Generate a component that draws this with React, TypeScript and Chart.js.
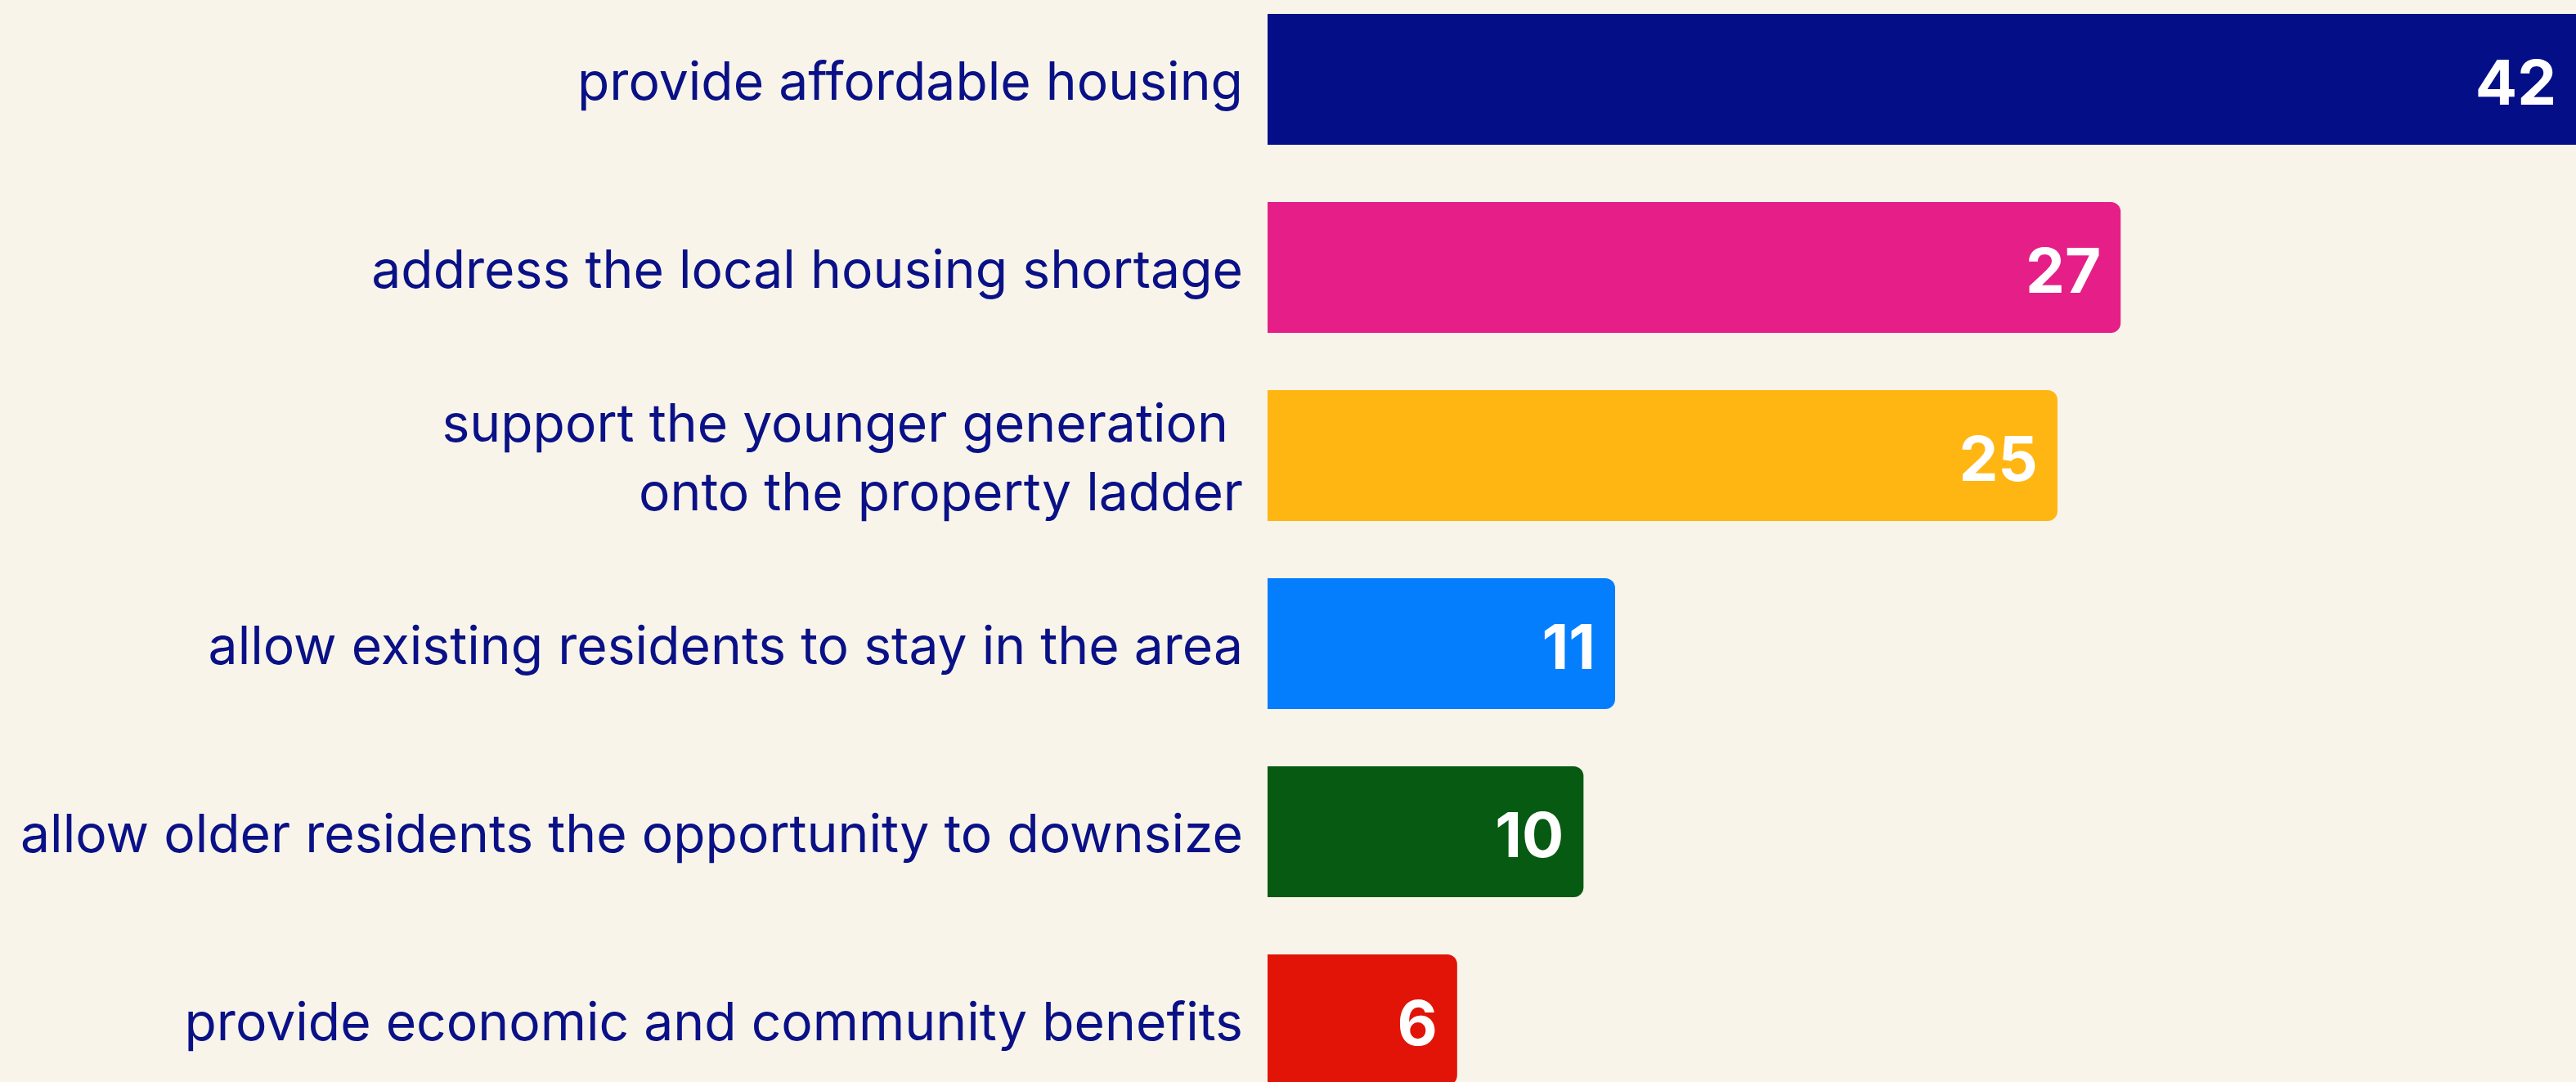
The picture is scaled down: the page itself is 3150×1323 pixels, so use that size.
import React, { useEffect, useRef } from "react";
import { Chart, registerables } from "chart.js";

Chart.register(...registerables);

// ---- data ----
const categories: (string | string[])[] = [
  "provide affordable housing",
  "address the local housing shortage",
  ["support the younger generation ", "onto the property ladder"],
  "allow existing residents to stay in the area",
  "allow older residents the opportunity to downsize",
  "provide economic and community benefits",
];
const values: number[] = [42, 27, 25, 11, 10, 6];
const barColors: string[] = ["#040F87", "#E51F87", "#FFB612", "#057EFE", "#065A12", "#E11407"];
const xMax = 44;

// ---- style ----
const FONT = "Inter, 'Noto Sans', sans-serif";
const BG = "#F8F4E9";
const TEXT = "#0A1187";
const VIEW_W = 3150;
const VIEW_H = 1323;
const CANVAS_W = 3250;
const CANVAS_H = 1380;
const CANVAS_TOP = -18;
const AXIS_W = 1550;
const LONGEST_LABEL_W = 1495;

export default function App() {
  const ref = useRef<HTMLCanvasElement | null>(null);

  useEffect(() => {
    const canvas = ref.current;
    if (!canvas) return;

    const m = document.createElement("canvas").getContext("2d")!;
    m.font = `400 100px ${FONT}`;
    let maxW = 0;
    categories.forEach((c) => {
      (Array.isArray(c) ? c : [c]).forEach((s) => {
        maxW = Math.max(maxW, m.measureText(s.trim()).width);
      });
    });
    const labelSize = (100 * LONGEST_LABEL_W) / maxW;

    const valueLabels = {
      id: "valueLabels",
      afterDatasetsDraw(chart: any) {
        const ctx = chart.ctx;
        const meta = chart.getDatasetMeta(0);
        ctx.save();
        ctx.fillStyle = "#FFFFFF";
        ctx.font = `700 76px ${FONT}`;
        ctx.textAlign = "right";
        ctx.textBaseline = "alphabetic";
        meta.data.forEach((bar: any, i: number) => {
          const end = Math.min(bar.x, VIEW_W);
          ctx.fillText(String(values[i]), end - 24, bar.y + 31);
        });
        ctx.restore();
      },
    };

    const chart = new Chart(canvas, {
      type: "bar",
      data: {
        labels: categories,
        datasets: [
          {
            data: values,
            backgroundColor: barColors,
            borderWidth: 0,
            borderRadius: { topLeft: 0, bottomLeft: 0, topRight: 12, bottomRight: 12 },
            borderSkipped: false,
            categoryPercentage: 1,
            barPercentage: 0.696,
          },
        ],
      },
      options: {
        indexAxis: "y",
        animation: false,
        responsive: false,
        devicePixelRatio: 1,
        layout: { padding: 0 },
        plugins: {
          legend: { display: false },
          tooltip: { enabled: false },
        },
        scales: {
          x: {
            display: false,
            min: 0,
            max: xMax,
          },
          y: {
            afterFit(scale: any) {
              scale.width = AXIS_W;
              scale.paddingTop = 0;
              scale.paddingBottom = 0;
            },
            grid: { display: false, drawTicks: false },
            border: { display: false },
            ticks: {
              padding: 30,
              labelOffset: 6,
              color: TEXT,
              font: { family: FONT, size: labelSize, weight: "400", lineHeight: "84px" },
            },
          },
        },
      },
      plugins: [valueLabels],
    } as any);

    return () => chart.destroy();
  }, []);

  return (
    <div
      style={{
        position: "fixed",
        left: 0,
        top: 0,
        width: VIEW_W,
        height: VIEW_H,
        overflow: "hidden",
        background: BG,
      }}
    >
      <canvas
        ref={ref}
        width={CANVAS_W}
        height={CANVAS_H}
        style={{ position: "absolute", left: 0, top: CANVAS_TOP, width: CANVAS_W, height: CANVAS_H }}
      />
    </div>
  );
}
